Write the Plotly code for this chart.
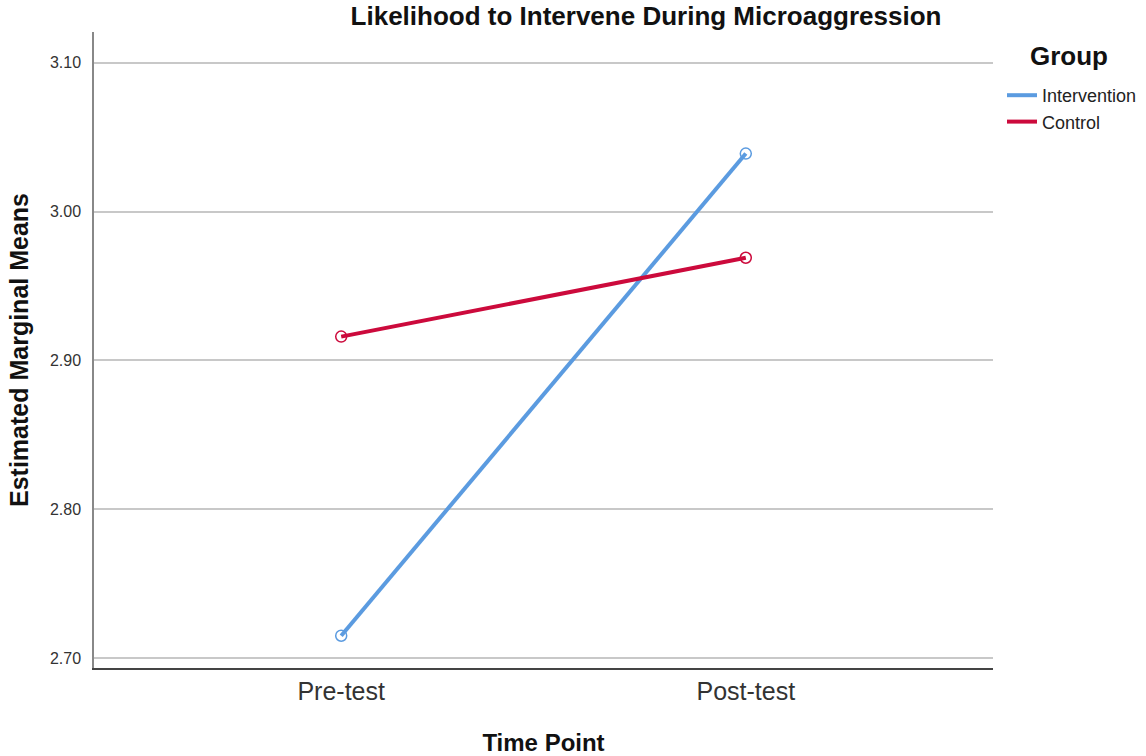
import plotly.graph_objects as go

time_points = ["Pre-test", "Post-test"]
intervention = [2.715, 3.039]
control = [2.916, 2.969]
y_ticks = [2.70, 2.80, 2.90, 3.00, 3.10]
y_tick_labels = ["2.70", "2.80", "2.90", "3.00", "3.10"]

FONT = "Liberation Sans, Arial, sans-serif"
series = [("Intervention", intervention, "#5b9be0"), ("Control", control, "#cc0a3c")]

fig = go.Figure()
for name, vals, col in series:
    fig.add_trace(go.Scatter(
        x=[0, 1], y=vals, name=name, mode="lines",
        line=dict(color=col, width=4), legendgroup=name,
    ))
for name, vals, col in series:
    fig.add_trace(go.Scatter(
        x=[0, 1], y=vals, name=name, mode="markers", showlegend=False,
        marker=dict(symbol="circle-open", size=11, color=col, line=dict(width=1.5)),
        legendgroup=name,
    ))

fig.update_layout(
    width=1146, height=756,
    margin=dict(l=94, r=153, t=32, b=88, autoexpand=False),
    paper_bgcolor="white", plot_bgcolor="white",
    font=dict(family=FONT, color="#222"),
    title=dict(text="<b>Likelihood to Intervene During Microaggression</b>",
               x=(646 - 94) / 899, xref="paper", xanchor="center",
               y=1 - 16 / 756, yanchor="middle",
               font=dict(size=26, color="#111", family=FONT)),
    showlegend=True,
    legend=dict(
        x=(1002 - 94) / 899, xanchor="left", y=1 - (77 - 32) / 636, yanchor="top",
        font=dict(size=18, color="#222"),
        itemwidth=30, tracegroupgap=0, bgcolor="rgba(0,0,0,0)",
    ),
    annotations=[dict(
        text="<b>Group</b>", x=(1069 - 94) / 899, y=1 - (56 - 32) / 636,
        xref="paper", yref="paper", xanchor="center", yanchor="middle",
        showarrow=False, font=dict(size=26, color="#111"),
    )],
)
fig.update_xaxes(
    range=[-0.611, 1.611], tickvals=[0, 1], ticktext=time_points,
    showgrid=False, zeroline=False, showline=True, linecolor="#444", linewidth=1.5,
    ticks="", tickfont=dict(size=25, color="#333"),
    title=dict(text="<b>Time Point</b>", font=dict(size=24, color="#111"), standoff=33),
)
fig.update_yaxes(
    range=[2.6933, 3.1207], tickvals=y_ticks, ticktext=y_tick_labels,
    showgrid=True, gridcolor="#c8c8c8", gridwidth=2, zeroline=False,
    showline=True, linecolor="#888", linewidth=1.5,
    ticks="", tickfont=dict(size=16, color="#333"), ticklabelstandoff=8,
    title=dict(text="<b>Estimated Marginal Means</b>", font=dict(size=25, color="#111"), standoff=14),
)

fig.write_html("out.html", config={"displayModeBar": False},
               post_script="document.body.style.margin='0';")
